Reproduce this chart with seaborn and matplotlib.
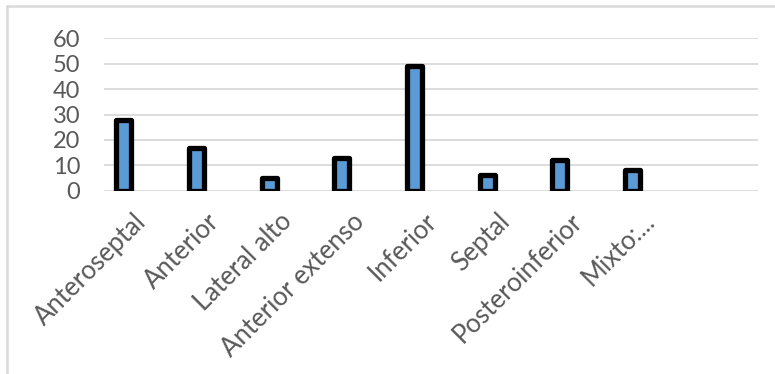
import matplotlib
matplotlib.use("Agg")
import matplotlib.pyplot as plt
import matplotlib.transforms as mtransforms
from matplotlib.lines import Line2D
import seaborn as sns
import pandas as pd

# ---- data ----
categories = ["Anteroseptal", "Anterior", "Lateral alto", "Anterior extenso",
              "Inferior", "Septal", "Posteroinferior", "Mixto:..."]
values = [28, 17, 5, 13, 49, 6, 12, 8]
empty_slots = [""]
series_names = ["Serie 1", "Serie 2"]
y_ticks = [0, 10, 20, 30, 40, 50, 60]

# ---- style ----
sns.set_theme(style="white")
plt.rcParams["font.family"] = ["Lato", "DejaVu Sans"]
text_color = "#595959"
grid_color = "#d9d9d9"
bar_color = "#5B9BD5"

df = pd.DataFrame({"categoria": categories, "valor": values,
                   "serie": [series_names[0]] * len(categories)})

W, H = 775, 374
fig = plt.figure(figsize=(W / 100, H / 100), dpi=100)
left, right, top, bottom = 104, 758, 38.3, 190.7
ax = fig.add_axes([left / W, 1 - bottom / H, (right - left) / W, (bottom - top) / H])

sns.barplot(data=df, x="categoria", y="valor", hue="serie",
            hue_order=series_names, order=categories + empty_slots,
            palette=[bar_color, "#ED7D31"], width=0.91, gap=0.547, dodge=True,
            edgecolor="black", linewidth=3.8, errorbar=None,
            legend=False, ax=ax, saturation=1)
for p in ax.patches:
    p.set_joinstyle("round")

ax.set_xlim(-0.5, len(categories) + len(empty_slots) - 0.5)
ax.set_ylim(0, 60)
ax.set_yticks(y_ticks)
ax.set_xlabel("")
ax.set_ylabel("")
for s in ax.spines.values():
    s.set_visible(False)
ax.yaxis.grid(True, color=grid_color, linewidth=1.3)
ax.xaxis.grid(False)
ax.set_axisbelow(True)

ax.tick_params(axis="y", length=0, pad=17, labelsize=17, labelcolor=text_color)
ax.tick_params(axis="x", length=0, pad=13, labelsize=18.5, labelcolor=text_color)
offset = mtransforms.ScaledTranslation(11 / 100, 0, fig.dpi_scale_trans)
for lab in ax.get_xticklabels():
    lab.set_rotation(45)
    lab.set_ha("right")
    lab.set_va("top")
    lab.set_transform(lab.get_transform() + offset)

# chart frame (left and top edges)
fig.add_artist(Line2D([7.3 / W, 7.3 / W], [0, 1 - 6 / H], transform=fig.transFigure,
                      color=grid_color, linewidth=1.8))
fig.add_artist(Line2D([7.3 / W, 1], [1 - 6 / H, 1 - 6 / H], transform=fig.transFigure,
                      color=grid_color, linewidth=1.8))

fig.savefig("out.png", dpi=100)
